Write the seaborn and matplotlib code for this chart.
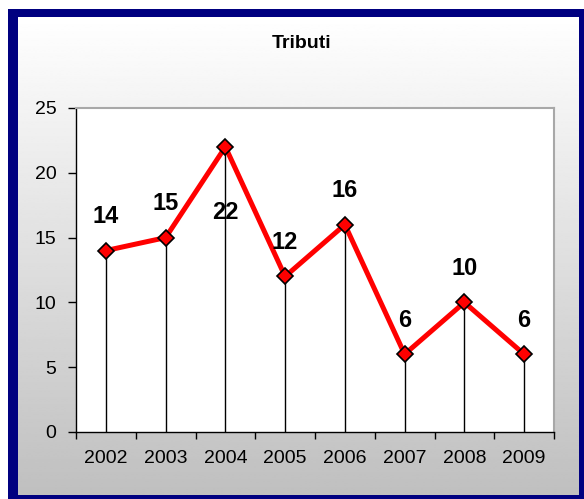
import numpy as np
import pandas as pd
import matplotlib
matplotlib.use("Agg")
import matplotlib.pyplot as plt
from matplotlib.patches import Rectangle
import seaborn as sns

# dati del grafico
anni = ["2002", "2003", "2004", "2005", "2006", "2007", "2008", "2009"]
tributi = [14, 15, 22, 12, 16, 6, 10, 6]
titolo = "Tributi"
y_ticks = [0, 5, 10, 15, 20, 25]

df = pd.DataFrame({"anno": anni, "tributi": tributi})
df["pos"] = np.arange(len(df))

sns.set_theme(style="white")
plt.rcParams['font.family'] = ['Liberation Sans', 'DejaVu Sans']

W, H = 584, 499
fig = plt.figure(figsize=(W / 100, H / 100), dpi=100)
fig.patch.set_facecolor("white")

# sfondo sfumato e cornice blu
bg = fig.add_axes([0, 0, 1, 1], zorder=-5)
bg.set_xlim(0, W)
bg.set_ylim(H, 0)
bg.axis("off")
grad = np.linspace(1.0, 0.75, 256).reshape(-1, 1)
bg.imshow(grad, cmap="gray", vmin=0, vmax=1, aspect="auto",
          extent=(18, 579, 495, 17), interpolation="bilinear")
navy = "#000080"
for r in [(8, 9, 10, 490), (8, 9, 576, 8), (579, 9, 5, 490), (8, 495, 576, 4)]:
    bg.add_patch(Rectangle((r[0], r[1]), r[2], r[3], color=navy, lw=0))

# area del grafico
ax = fig.add_axes([76 / W, 1 - 432 / H, (554 - 76) / W, (432 - 108) / H])
ax.set_facecolor("white")

ax.vlines(df["pos"], 0, df["tributi"], color="black", lw=1, zorder=2)
sns.lineplot(data=df, x="pos", y="tributi", ax=ax, color="#ff0000", lw=3.6,
             marker="D", markersize=8.5, markerfacecolor="#ff0000",
             markeredgecolor="black", markeredgewidth=1.2, zorder=3)

# etichette dei valori (quella del 2004 sta sotto il punto)
for i, row in df.iterrows():
    dy = -47 if row["tributi"] == max(tributi) else 24.5
    ax.annotate(str(row["tributi"]), (row["pos"], row["tributi"]),
                xytext=(0, dy), textcoords="offset points",
                ha="center", va="center", fontsize=17, fontweight="bold",
                color="black", zorder=4)

ax.set_xlim(-0.5, len(anni) - 0.5)
ax.set_ylim(0, 25)
ax.set_yticks(y_ticks)
ax.set_xticks(df["pos"])
ax.set_xticklabels(anni)
ax.set_xticks(np.arange(-0.5, len(anni)), minor=True)
ax.tick_params(axis="x", which="major", length=0, pad=13, labelsize=14, colors="black")
ax.tick_params(axis="x", which="minor", length=5, width=1, color="black", bottom=True)
ax.tick_params(axis="y", length=6, width=1, color="black", left=True, pad=8,
               labelsize=14, colors="black")
ax.set_xlabel("")
ax.set_ylabel("")

for s in ["left", "bottom"]:
    ax.spines[s].set_color("black")
    ax.spines[s].set_linewidth(1)
for s in ["top", "right"]:
    ax.spines[s].set_color("#a8a8a8")
    ax.spines[s].set_linewidth(1.5)

fig.text(302 / W, 1 - 44 / H, titolo, ha="center", va="center",
         fontsize=14, fontweight="bold", color="black")

fig.savefig("out.png", dpi=100)
